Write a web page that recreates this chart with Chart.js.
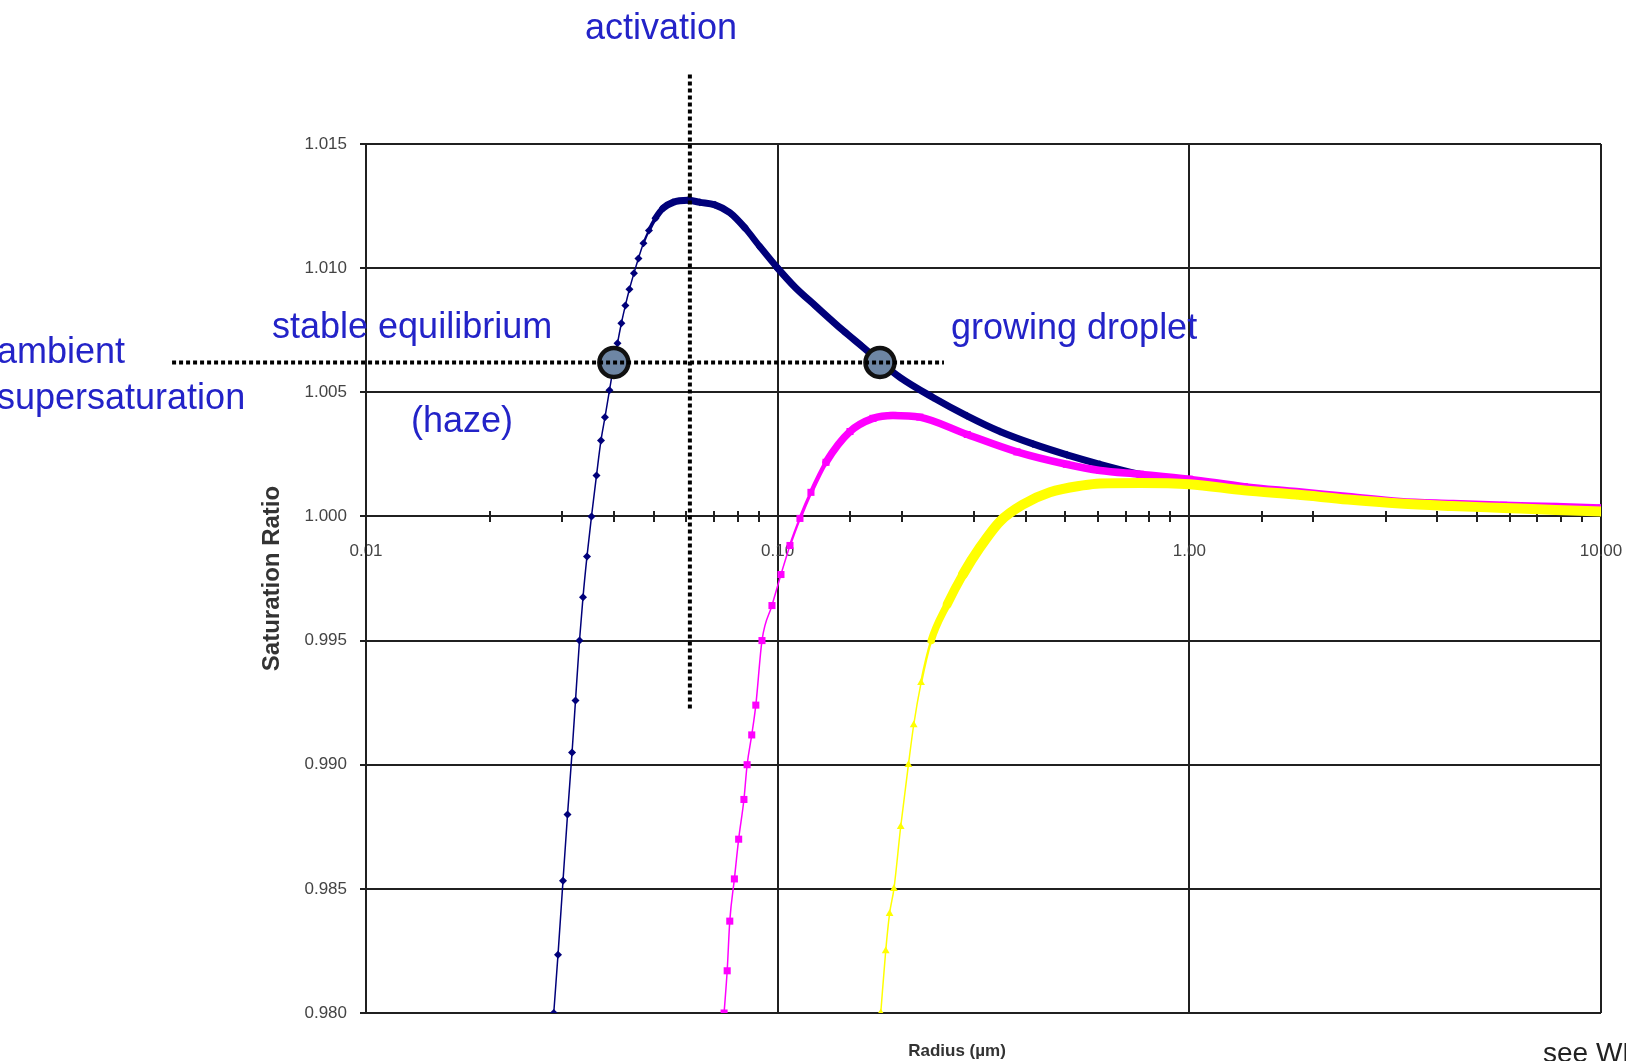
<!DOCTYPE html>
<html>
<head>
<meta charset="utf-8">
<title>Saturation ratio vs radius</title>
<script src="https://cdn.jsdelivr.net/npm/chart.js@4.4.1/dist/chart.umd.min.js"></script>
<style>
  html, body { margin: 0; padding: 0; background: #fff; overflow: hidden; }
  canvas { display: block; }
</style>
</head>
<body>
<canvas id="kohler" width="1626" height="1061"></canvas>
<script>
// curves: radius (um) and saturation ratio
var blueRadius = [0.02858, 0.02927, 0.03010, 0.03087, 0.03166, 0.03228, 0.03301, 0.03366, 0.03442, 0.03530, 0.03630, 0.03722, 0.03806, 0.03903, 0.04003, 0.04082, 0.04172, 0.04267, 0.04364, 0.04475, 0.04589, 0.04720, 0.04867, 0.05048, 0.05265, 0.05569, 0.06056, 0.06475, 0.07042, 0.07658, 0.08328, 0.09058, 0.09961, 0.1102, 0.1232, 0.1441, 0.1603, 0.1772, 0.1982, 0.2384, 0.2883, 0.3467, 0.4170, 0.5043, 0.6065, 0.7586, 1.00, 1.36, 1.82, 2.43, 3.25, 4.34, 5.80, 7.77, 10.0];
var blueRatio = [0.9800, 0.98235, 0.98533, 0.98799, 0.99049, 0.99259, 0.99500, 0.99674, 0.99839, 1.00000, 1.00165, 1.00306, 1.00399, 1.00508, 1.00616, 1.00697, 1.00778, 1.00850, 1.00915, 1.00979, 1.01039, 1.01100, 1.01152, 1.01201, 1.01241, 1.01265, 1.01273, 1.01265, 1.01255, 1.01223, 1.01162, 1.01086, 1.01003, 1.00923, 1.00850, 1.00749, 1.00685, 1.00624, 1.00560, 1.00479, 1.00405, 1.00342, 1.00292, 1.00248, 1.00210, 1.00169, 1.00130, 1.00105, 1.00085, 1.00066, 1.00050, 1.00040, 1.00032, 1.00025, 1.0002];

var pinkRadius = [0.0741, 0.0754, 0.0765, 0.0785, 0.0804, 0.0828, 0.0843, 0.0865, 0.0885, 0.09160, 0.09686, 0.10186, 0.10712, 0.11327, 0.12046, 0.13105, 0.14987, 0.17038, 0.19055, 0.2215, 0.2888, 0.3813, 0.5028, 0.6065, 0.760, 1.00, 1.36, 1.82, 2.43, 3.25, 4.34, 5.80, 7.77, 10.0];
var pinkRatio = [0.9800, 0.9817, 0.9837, 0.9854, 0.9870, 0.9886, 0.9900, 0.9912, 0.9924, 0.99500, 0.99641, 0.99766, 0.99883, 0.99992, 1.00097, 1.00218, 1.00342, 1.00395, 1.00407, 1.0040, 1.0033, 1.0026, 1.0021, 1.00185, 1.0017, 1.0015, 1.0012, 1.0010, 1.0008, 1.0006, 1.00052, 1.00045, 1.0004, 1.00034];

var yellowRadius = [0.178, 0.183, 0.187, 0.1916, 0.199, 0.2078, 0.214, 0.223, 0.236, 0.258, 0.2818, 0.310, 0.3467, 0.3943, 0.4585, 0.5515, 0.6065, 0.760, 1.00, 1.36, 1.82, 2.43, 3.25, 4.34, 5.80, 7.77, 10.0];
var yellowRatio = [0.9800, 0.9825, 0.9840, 0.9850, 0.9875, 0.9900, 0.9916, 0.9933, 0.9950, 0.99645, 0.99766, 0.99875, 0.9998, 1.00048, 1.00097, 1.00125, 1.00133, 1.00135, 1.0013, 1.00105, 1.00088, 1.00068, 1.00052, 1.00042, 1.00034, 1.00026, 1.0002];

// annotation guides
var ambientRadius = [0.00338, 0.2535];
var ambientRatio = [1.0062, 1.0062];
var activationRadius = [0.0612, 0.0612];
var activationRatio = [1.0178, 0.9922];
var equilibriumRadius = [0.0400, 0.1772];
var equilibriumRatio = [1.0062, 1.0062];

// axes
var radiusTicks = [0.01, 0.1, 1, 10];
var radiusTickLabels = ['0.01', '0.10', '1.00', '10.00'];
var ratioTicks = [0.980, 0.985, 0.990, 0.995, 1.000, 1.005, 1.010, 1.015];
var ratioTickLabels = ['0.980', '0.985', '0.990', '0.995', '1.000', '1.005', '1.010', '1.015'];

var FONT = "'Liberation Sans', Arial, sans-serif";
var BLUE_TEXT = '#2323c8';
var GRID = '#202020';

function pts(xs, ys) {
  return xs.map(function (x, i) { return { x: x, y: ys[i] }; });
}

function decadeIndex(v) {
  for (var i = 0; i < radiusTicks.length; i++) {
    if (Math.abs(v - radiusTicks[i]) < radiusTicks[i] * 1e-6) return i;
  }
  return -1;
}

// dense markers in the original turn the shallow parts into a thick band
function band(thin, thick, lo) {
  return function (c) {
    var dx = Math.abs(c.p1.x - c.p0.x), dy = Math.abs(c.p1.y - c.p0.y);
    var len = Math.sqrt(dx * dx + dy * dy) || 1;
    var t = Math.min(1, Math.max(0, (dx / len - lo) / 0.3));
    return thin + t * (thick - thin);
  };
}

var notes = [
  { text: 'activation', x: 585, y: 39 },
  { text: 'stable equilibrium', x: 272, y: 338 },
  { text: '(haze)', x: 411, y: 432 },
  { text: 'growing droplet', x: 951, y: 339 },
  { text: 'ambient', x: -3, y: 363 },
  { text: 'supersaturation', x: -3, y: 409 }
];

var textPlugin = {
  id: 'textNotes',
  afterDraw: function (chart) {
    var ctx = chart.ctx;
    ctx.save();
    ctx.textAlign = 'left';
    ctx.textBaseline = 'alphabetic';
    ctx.fillStyle = BLUE_TEXT;
    ctx.font = '36px ' + FONT;
    notes.forEach(function (n) { ctx.fillText(n.text, n.x, n.y); });
    ctx.fillStyle = '#333';
    ctx.font = 'bold 17px ' + FONT;
    ctx.textAlign = 'center';
    ctx.fillText('Radius (\u00b5m)', 957, 1056);
    ctx.fillStyle = '#222';
    ctx.textAlign = 'left';
    ctx.font = '28px ' + FONT;
    ctx.fillText('see WH', 1543, 1062);
    ctx.restore();
  }
};

Chart.defaults.font.family = FONT;

new Chart(document.getElementById('kohler'), {
  type: 'line',
  data: {
    datasets: [
      {
        label: 'yellow', data: pts(yellowRadius, yellowRatio), order: 5,
        borderColor: '#ffff00', backgroundColor: '#ffff00', borderWidth: 1.5,
        pointStyle: 'triangle', pointRadius: 4.5, pointBorderWidth: 0,
        cubicInterpolationMode: 'monotone', borderCapStyle: 'round',
        segment: { borderWidth: band(1.5, 10, 0.2) }
      },
      {
        label: 'pink', data: pts(pinkRadius, pinkRatio), order: 6,
        borderColor: '#ff00ff', backgroundColor: '#ff00ff', borderWidth: 1.5,
        pointStyle: 'rect', pointRadius: 5, pointBorderWidth: 0,
        cubicInterpolationMode: 'monotone', borderCapStyle: 'round',
        segment: { borderWidth: band(1.5, 7.5, 0.3) }
      },
      {
        label: 'blue', data: pts(blueRadius, blueRatio), order: 7,
        borderColor: '#00007a', backgroundColor: '#00007a', borderWidth: 1.5,
        pointStyle: 'rectRot', pointRadius: 4, pointBorderWidth: 0,
        cubicInterpolationMode: 'monotone', borderCapStyle: 'round',
        segment: { borderWidth: band(1.5, 7, 0.35) }
      },
      {
        label: 'equilibria', data: pts(equilibriumRadius, equilibriumRatio), order: 2,
        showLine: false, pointStyle: 'circle', pointRadius: 14.5,
        pointBackgroundColor: '#6e86a4', pointBorderColor: '#111', pointBorderWidth: 4.5
      },
      {
        label: 'ambient', data: pts(ambientRadius, ambientRatio), order: 1, clip: false,
        borderColor: '#000', borderWidth: 4, borderDash: [4, 3], borderCapStyle: 'butt',
        pointRadius: 0
      },
      {
        label: 'activation', data: pts(activationRadius, activationRatio), order: 1, clip: false,
        borderColor: '#000', borderWidth: 4, borderDash: [4, 3], borderCapStyle: 'butt',
        pointRadius: 0
      }
    ]
  },
  options: {
    responsive: false,
    animation: false,
    devicePixelRatio: 1,
    layout: { padding: { left: 250, right: 25, top: 144, bottom: 48 } },
    plugins: { legend: { display: false }, tooltip: { enabled: false } },
    scales: {
      x: {
        type: 'logarithmic', min: 0.01, max: 10,
        position: { y: 1.0 },
        afterFit: function (s) { s.paddingLeft = 0; s.paddingRight = 0; },
        border: { color: GRID, width: 2 },
        grid: {
          color: function (c) { return c.tick && decadeIndex(c.tick.value) >= 0 ? GRID : 'rgba(0,0,0,0)'; },
          tickColor: GRID, lineWidth: 2, tickLength: 5
        },
        ticks: {
          autoSkip: false, maxRotation: 0, padding: 20,
          color: '#444', font: { size: 17 },
          callback: function (v) { var i = decadeIndex(v); return i >= 0 ? radiusTickLabels[i] : ''; }
        }
      },
      // same axis again, only to draw the tick marks upward so they cross the line
      xUp: {
        type: 'logarithmic', min: 0.01, max: 10,
        position: { y: 1.0 },
        afterFit: function (s) { s.paddingLeft = 0; s.paddingRight = 0; },
        border: { display: false },
        grid: { drawOnChartArea: false, tickColor: GRID, lineWidth: 2, tickLength: -5 },
        ticks: { display: false, autoSkip: false }
      },
      y: {
        type: 'linear', min: 0.98, max: 1.015,
        afterBuildTicks: function (s) { s.ticks = ratioTicks.map(function (v) { return { value: v }; }); },
        afterFit: function (s) { s.width = 116; },
        border: { color: GRID, width: 2 },
        grid: { color: GRID, tickColor: GRID, lineWidth: 2, tickLength: 6 },
        ticks: {
          padding: 13, color: '#444', font: { size: 17 },
          callback: function (v, i) { return ratioTickLabels[i]; }
        },
        title: {
          display: true, text: 'Saturation Ratio', color: '#333',
          font: { size: 24, weight: 'bold' }, padding: { top: 8, bottom: 0 }
        }
      }
    }
  },
  plugins: [textPlugin]
});
</script>
</body>
</html>
